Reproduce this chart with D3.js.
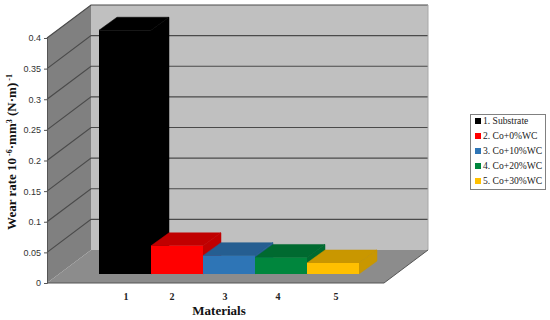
<!DOCTYPE html>
<html>
<head>
<meta charset="utf-8">
<script src="https://cdn.jsdelivr.net/npm/d3@7"></script>
<style>
html, body { margin: 0; padding: 0; background: #fff; }
svg { display: block; }
</style>
</head>
<body>
<div id="chart"></div>
<script>
const WIDTH = 550;
const HEIGHT = 320;

const categories = ['1', '2', '3', '4', '5'];
const seriesNames = ['1. Substrate', '2. Co+0%WC', '3. Co+10%WC', '4. Co+20%WC', '5. Co+30%WC'];
const wearRates = [0.398, 0.046, 0.03, 0.027, 0.018];
const yTicks = [0, 0.05, 0.1, 0.15, 0.2, 0.25, 0.3, 0.35, 0.4];
const frontColors = ['#000000', '#ff0000', '#2e75b6', '#00863d', '#ffc000'];
const darkColors = ['#000000', '#c00000', '#255e91', '#006a30', '#c99700'];

// 3d box of the chart: front plane, plus the shift to the back wall
const PLOT = {left: 47, right: 384, bottom: 283, top: 38};
const DEPTH = {x: 44, y: -33};
const BAR_DEPTH = {x: 18, y: -13};
const BAR_BASE = 9;  // bars stand this far up the floor

const svg = d3.select('#chart').append('svg')
    .attr('width', WIDTH)
    .attr('height', HEIGHT);

const y = d3.scaleLinear().domain([0, 0.4]).range([PLOT.bottom, PLOT.top]);
const x = d3.scaleBand().domain(categories).range([99, 359]);

function poly(points, fill) {
    return svg.append('polygon')
        .attr('points', points.map(p => p.join(',')).join(' '))
        .attr('fill', fill);
}

// walls and floor
poly([[PLOT.left + DEPTH.x, y(0.4) + DEPTH.y], [PLOT.right + DEPTH.x, y(0.4) + DEPTH.y],
      [PLOT.right + DEPTH.x, y(0) + DEPTH.y], [PLOT.left + DEPTH.x, y(0) + DEPTH.y]], '#c0c0c0');
poly([[PLOT.left, y(0.4)], [PLOT.left + DEPTH.x, y(0.4) + DEPTH.y],
      [PLOT.left + DEPTH.x, y(0) + DEPTH.y], [PLOT.left, y(0)]], '#808080');
poly([[PLOT.left, y(0)], [PLOT.left + DEPTH.x, y(0) + DEPTH.y],
      [PLOT.right + DEPTH.x, y(0) + DEPTH.y], [PLOT.right, y(0)]], '#8c8c8c');

// grid lines run along the side wall then the back wall
yTicks.filter(t => t > 0).forEach(t => {
    svg.append('path')
        .attr('fill', 'none')
        .attr('stroke', '#4a4a4a')
        .attr('stroke-width', 1.2)
        .attr('d', 'M' + PLOT.left + ' ' + y(t)
            + 'L' + (PLOT.left + DEPTH.x) + ' ' + (y(t) + DEPTH.y)
            + 'L' + (PLOT.right + DEPTH.x) + ' ' + (y(t) + DEPTH.y));
});
svg.append('path')
    .attr('fill', 'none')
    .attr('stroke', '#a8a8a8')
    .attr('d', 'M' + (PLOT.right + DEPTH.x) + ' ' + (y(0.4) + DEPTH.y)
        + 'V' + (y(0) + DEPTH.y));

// y axis
const yAxis = svg.append('g')
    .attr('transform', 'translate(' + PLOT.left + ',0)')
    .call(d3.axisLeft(y).tickValues(yTicks).tickSize(3).tickPadding(3).tickFormat(d3.format('~g')));
yAxis.selectAll('text')
    .attr('font-family', '"Liberation Sans", sans-serif')
    .attr('font-size', 9)
    .attr('fill', '#333');
yAxis.selectAll('line, path').attr('stroke', '#555');

// floor front edge
svg.append('path')
    .attr('fill', 'none')
    .attr('stroke', '#555')
    .attr('d', 'M' + PLOT.left + ' ' + y(0) + 'H' + PLOT.right
        + 'L' + (PLOT.right + DEPTH.x) + ' ' + (y(0) + DEPTH.y));

// bars, left to right so each one covers the side of the one before
categories.forEach((c, i) => {
    let x0 = x(c);
    let x1 = x0 + x.bandwidth();
    let top = y(wearRates[i]) - BAR_BASE;
    let base = y(0) - BAR_BASE;
    poly([[x0, top], [x0 + BAR_DEPTH.x, top + BAR_DEPTH.y],
          [x1 + BAR_DEPTH.x, top + BAR_DEPTH.y], [x1, top]], darkColors[i])
        .attr('stroke', darkColors[i]).attr('stroke-width', 0.5);
    poly([[x1, top], [x1 + BAR_DEPTH.x, top + BAR_DEPTH.y],
          [x1 + BAR_DEPTH.x, base + BAR_DEPTH.y], [x1, base]], darkColors[i])
        .attr('stroke', darkColors[i]).attr('stroke-width', 0.5);
    poly([[x0, top], [x1, top], [x1, base], [x0, base]], frontColors[i]);
});

// category labels sit a little off the bar centres in the picture
const labelNudge = [1, -5, -4, -3, 3];
svg.append('g').selectAll('text')
    .data(categories)
    .join('text')
    .attr('x', (d, i) => x(d) + x.bandwidth() / 2 + labelNudge[i])
    .attr('y', 300)
    .attr('text-anchor', 'middle')
    .attr('font-family', '"Liberation Serif", serif')
    .attr('font-weight', 'bold')
    .attr('font-size', 10)
    .attr('fill', '#222')
    .text(d => d);

// axis titles
svg.append('text')
    .attr('x', 219)
    .attr('y', 315)
    .attr('text-anchor', 'middle')
    .attr('font-family', '"Liberation Serif", serif')
    .attr('font-weight', 'bold')
    .attr('font-size', 13)
    .attr('fill', '#111')
    .text('Materials');

const yTitle = svg.append('text')
    .attr('transform', 'translate(16,152) rotate(-90)')
    .attr('text-anchor', 'middle')
    .attr('font-family', '"Liberation Serif", serif')
    .attr('font-weight', 'bold')
    .attr('font-size', 13)
    .attr('fill', '#111');
yTitle.append('tspan').text('Wear rate 10');
yTitle.append('tspan').attr('dy', -4).attr('font-size', 8).text(' -6');
yTitle.append('tspan').attr('dy', 4).text('·mm');
yTitle.append('tspan').attr('dy', -4).attr('font-size', 8).text('3');
yTitle.append('tspan').attr('dy', 4).text(' (N·m)');
yTitle.append('tspan').attr('dy', -4).attr('font-size', 8).text(' -1');

// legend
svg.append('rect')
    .attr('x', 470.5)
    .attr('y', 114.5)
    .attr('width', 75)
    .attr('height', 75)
    .attr('fill', '#fff')
    .attr('stroke', '#808080');
const legendY = d3.scalePoint().domain(seriesNames).range([121, 181]);
const legendItems = svg.append('g').selectAll('g')
    .data(seriesNames)
    .join('g')
    .attr('transform', d => 'translate(475,' + legendY(d) + ')');
legendItems.append('rect')
    .attr('y', -3)
    .attr('width', 6)
    .attr('height', 6)
    .attr('fill', (d, i) => frontColors[i]);
legendItems.append('text')
    .attr('x', 8)
    .attr('y', 3)
    .attr('font-family', '"Liberation Serif", serif')
    .attr('font-size', 9.6)
    .attr('fill', '#222')
    .text(d => d);
</script>
</body>
</html>
